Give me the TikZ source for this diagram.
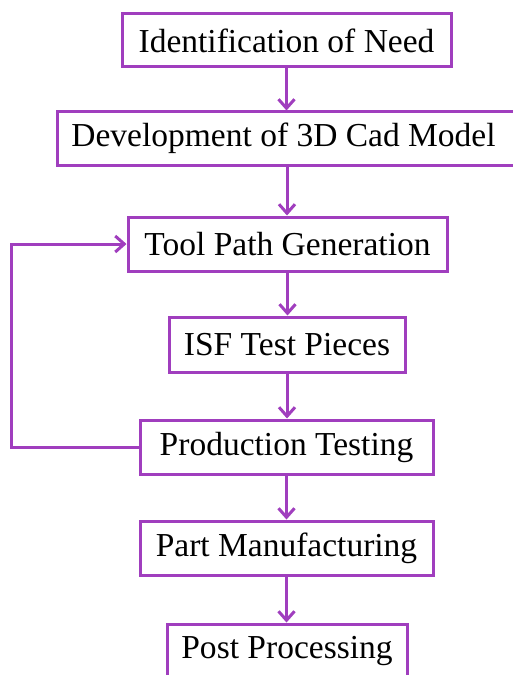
\documentclass[tikz,border=0pt]{standalone}
\usepackage{fontspec}
\setmainfont{Liberation Serif}
\usetikzlibrary{arrows.meta}
\definecolor{flowpurple}{RGB}{160,62,190}
\begin{document}
\begin{tikzpicture}[x=1bp,y=1bp,
  box/.style={draw=flowpurple, line width=3bp, rectangle, inner sep=0pt,
    font=\fontsize{33.5bp}{40bp}\selectfont, text=black, fill=white},
  conn/.style={draw=flowpurple, line width=3bp, -{Straight Barb[length=9bp,width=16bp,line width=3bp]}}]
\useasboundingbox (0,0) rectangle (513,-675);
\clip (0,0) rectangle (513,-675);
\fill[white] (0,0) rectangle (513,-675);
\node[box, minimum width=329bp, minimum height=53bp] (n1) at (286.5,-40.5) {Identification of Need};
\node[box, minimum width=458bp, minimum height=53bp] (n2) at (287,-138.5) {};
\node[font=\fontsize{33.5bp}{40bp}\selectfont] (t2) at (283.5,-138.5) {Development of 3D Cad Model};
\node[box, minimum width=319bp, minimum height=54bp] (n3) at (287.5,-244) {Tool Path Generation};
\node[box, minimum width=236bp, minimum height=55bp] (n4) at (287,-344.5) {ISF Test Pieces};
\node[box, minimum width=293bp, minimum height=54bp] (n5) at (286.5,-447) {Production Testing};
\node[box, minimum width=293bp, minimum height=54bp] (n6) at (286.5,-548) {Part Manufacturing};
\node[box, minimum width=240bp, minimum height=54bp] (n7) at (287,-651) {Post Processing};
\draw[conn] (n1.south) -- (n1.south |- n2.north);
\draw[conn] (n2.south) -- (n2.south |- n3.north);
\draw[conn] (n3.south) -- (n3.south |- n4.north);
\draw[conn] (n4.south) -- (n4.south |- n5.north);
\draw[conn] (n5.south) -- (n5.south |- n6.north);
\draw[conn] (n6.south) -- (n6.south |- n7.north);
\coordinate (lb) at (11,-447);
\coordinate (lt) at (11,-244);
\draw[conn] (n5.west) -- (lb) -- (lt) -- (n3.west);
\end{tikzpicture}
\end{document}
